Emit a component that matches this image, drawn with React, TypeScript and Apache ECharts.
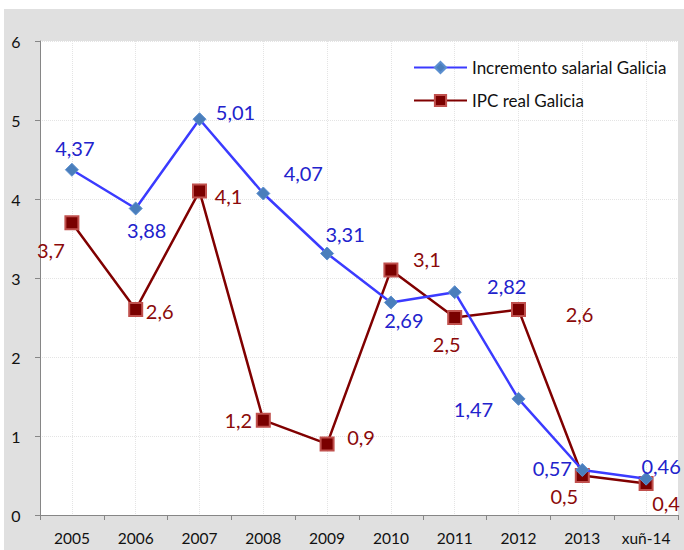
import React, { useEffect, useRef } from "react";
import * as echarts from "echarts";

const categories = ["2005", "2006", "2007", "2008", "2009", "2010", "2011", "2012", "2013", "xuñ-14"];
const salarial = [4.37, 3.88, 5.01, 4.07, 3.31, 2.69, 2.82, 1.47, 0.57, 0.46];
const ipc = [3.7, 2.6, 4.1, 1.2, 0.9, 3.1, 2.5, 2.6, 0.5, 0.4];
const yTicks = [0, 1, 2, 3, 4, 5, 6];

// label offsets (style only)
const salarialOffsets = [[3, -22], [11, 22], [36, -7], [40, -20], [18, -20], [13, 18], [52, -6], [-45, 10], [-30, -2], [15, -13]];
const ipcOffsets = [[-21, 27], [24, 1], [29, 5], [-25, 0], [34, -7], [36, -11], [-8, 26], [61, 4], [-18, 20], [20, 20]];

const FONT = "Lato, 'Open Sans', sans-serif";
const fmt = (v: number) => String(v).replace(".", ",");

export default function App() {
  const ref = useRef<HTMLDivElement>(null);
  useEffect(() => {
    if (!ref.current) return;
    const chart = echarts.init(ref.current, undefined, { renderer: "svg" });
    const mk = (vals: number[], offs: number[][], color: string) =>
      vals.map((v, i) => ({
        value: v,
        label: { show: true, position: "inside", offset: offs[i], color, fontSize: 20, fontFamily: FONT, formatter: () => fmt(v) },
      }));
    chart.setOption({
      animation: false,
      backgroundColor: "transparent",
      textStyle: { fontFamily: FONT },
      grid: { left: 36, top: 32, right: 6, bottom: 35, show: true, backgroundColor: "#ffffff", borderWidth: 0 },
      legend: {
        orient: "vertical",
        left: 409,
        top: 50,
        padding: 0,
        itemWidth: 53,
        itemHeight: 14,
        itemGap: 16,
        textStyle: { fontSize: 17, color: "#111", fontFamily: FONT },
        data: ["Incremento salarial Galicia", "IPC real Galicia"],
      },
      xAxis: {
        type: "category",
        data: categories,
        boundaryGap: true,
        axisLine: { lineStyle: { color: "#868686", width: 1 } },
        axisTick: { show: true, interval: 0, length: 5, lineStyle: { color: "#868686" } },
        axisLabel: { color: "#111", fontSize: 15.5, margin: 15, interval: 0, fontFamily: FONT },
        splitLine: { show: true, interval: 0, alignWithLabel: true, lineStyle: { color: "#e4e4e4", type: "dotted" } },
      },
      yAxis: {
        type: "value",
        min: yTicks[0],
        max: yTicks[yTicks.length - 1],
        interval: 1,
        axisLine: { show: true, lineStyle: { color: "#868686", width: 1 } },
        axisTick: { show: true, length: 5, lineStyle: { color: "#868686" } },
        axisLabel: { color: "#111", fontSize: 16, margin: 24, align: "center", fontFamily: FONT },
        splitLine: { show: true, lineStyle: { color: "#e4e4e4", type: "dotted" } },
      },
      series: [
        {
          name: "Incremento salarial Galicia",
          type: "line",
          data: mk(salarial, salarialOffsets, "#2222cc"),
          symbol: "diamond",
          symbolSize: 13,
          lineStyle: { color: "#3b3bff", width: 2.5 },
          itemStyle: { color: "#4a7ebb", borderColor: "#5b8fd0", borderWidth: 1 },
          z: 3,
        },
        {
          name: "IPC real Galicia",
          type: "line",
          data: mk(ipc, ipcOffsets, "#8b0a0a"),
          symbol: "rect",
          symbolSize: 13,
          lineStyle: { color: "#800000", width: 2.5 },
          itemStyle: { color: "#7a0000", borderColor: "#c0504d", borderWidth: 2 },
          z: 2,
        },
      ],
    });
    return () => chart.dispose();
  }, []);
  return (
    <div style={{ position: "absolute", left: 0, top: 0, width: 684, height: 550, background: "#ffffff" }}>
      <div style={{ position: "absolute", left: 4, top: 9, width: 680, height: 541, background: "#e0e0e0" }}>
        <div ref={ref} style={{ width: 680, height: 541 }} />
      </div>
    </div>
  );
}
